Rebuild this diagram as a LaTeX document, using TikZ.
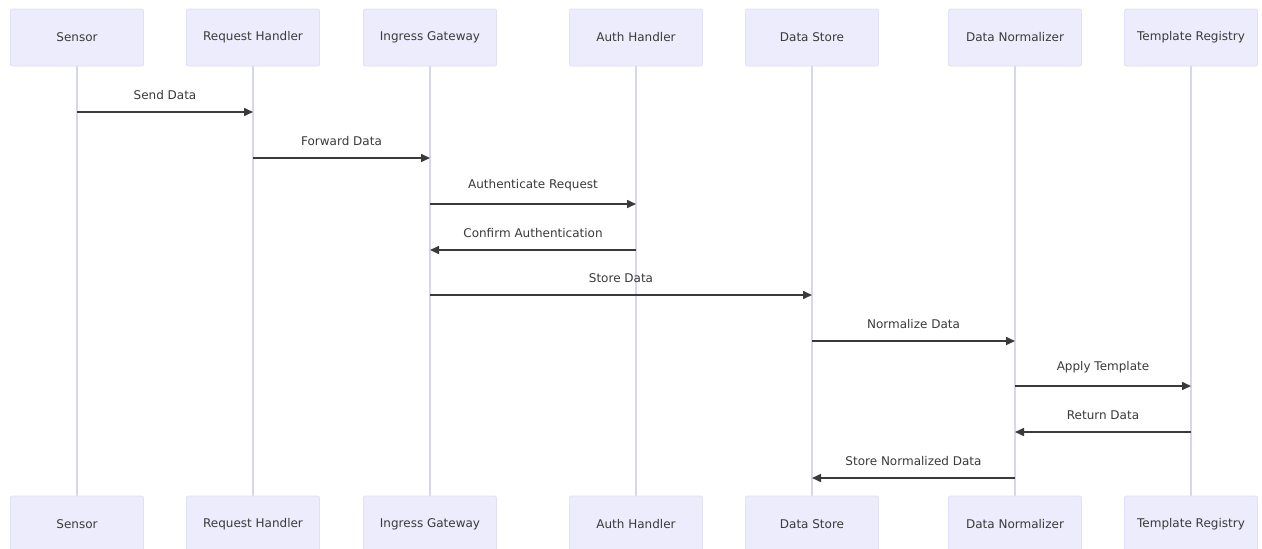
\documentclass[tikz,border=0pt]{standalone}
\usepackage{fontspec}
\setmainfont{DejaVu Sans}
\usetikzlibrary{arrows.meta}
\definecolor{actorfill}{HTML}{ECECFC}
\definecolor{actorline}{HTML}{E0E0F6}
\definecolor{lifeline}{HTML}{D6D6EE}
\definecolor{msgcol}{HTML}{3A3A3A}
\definecolor{txtcol}{HTML}{3A3A3A}
\begin{document}
\begin{tikzpicture}[x=1pt,y=-1pt,
  actor/.style={draw=actorline, fill=actorfill, line width=0.8pt, rounded corners=2pt,
    minimum width=133pt, minimum height=57pt, inner sep=0pt, text=txtcol,
    font=\fontsize{12}{14}\selectfont},
  life/.style={draw=lifeline, line width=1.4pt},
  msg/.style={draw=msgcol, line width=1.6pt, -{Triangle[length=9pt,width=8pt]}},
  lbl/.style={text=txtcol, font=\fontsize{12}{14}\selectfont, inner sep=0pt}]
\useasboundingbox (0,0) rectangle (1262,549);
\fill[white] (0,0) rectangle (1262,549);

% lifeline end points
\foreach \n/\x in {sen/77, req/253, ing/430, aut/636, dst/812, nor/1015, tpl/1191}{
  \coordinate (\n T) at (\x,66);
  \coordinate (\n B) at (\x,496);
}
\foreach \n in {sen,req,ing,aut,dst,nor,tpl}{
  \draw[life] (\n T) -- (\n B);
}
% participants, top and bottom
\foreach \n/\x/\t in {sen/77/Sensor, req/253/Request Handler, ing/430/Ingress Gateway,
    aut/636/Auth Handler, dst/812/Data Store, nor/1015/Data Normalizer, tpl/1191/Template Registry}{
  \node[actor] (\n top) at (\x,37.5) {\t};
  \node[actor] (\n bot) at (\x,524.5) {\t};
}

% messages
\draw[msg] (sentop |- 0,112) -- node[lbl, above=12pt] {Send Data} (reqtop |- 0,112);
\draw[msg] (reqtop |- 0,158) -- node[lbl, above=12pt] {Forward Data} (ingtop |- 0,158);
\draw[msg] (ingtop |- 0,204) -- node[lbl, above=12pt] {Authenticate Request} (auttop |- 0,204);
\draw[msg] (auttop |- 0,250) -- node[lbl, above=12pt] {Confirm Authentication} (ingtop |- 0,250);
\draw[msg] (ingtop |- 0,295) -- node[lbl, above=12pt] {Store Data} (dsttop |- 0,295);
\draw[msg] (dsttop |- 0,341) -- node[lbl, above=12pt] {Normalize Data} (nortop |- 0,341);
\draw[msg] (nortop |- 0,386) -- node[lbl, above=12pt] {Apply Template} (tpltop |- 0,386);
\draw[msg] (tpltop |- 0,432) -- node[lbl, above=12pt] {Return Data} (nortop |- 0,432);
\draw[msg] (nortop |- 0,478) -- node[lbl, above=12pt] {Store Normalized Data} (dsttop |- 0,478);
\end{tikzpicture}
\end{document}
